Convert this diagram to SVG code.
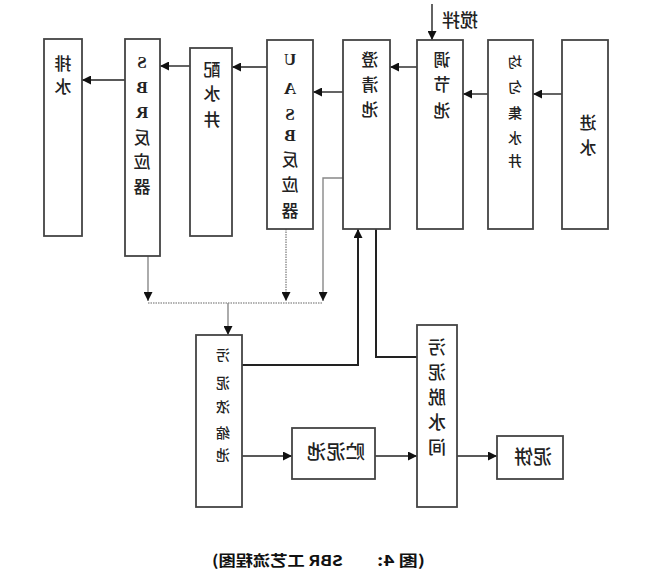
<svg xmlns="http://www.w3.org/2000/svg" width="658" height="577" viewBox="0 0 658 577">
<defs>
<marker id="ah" markerUnits="userSpaceOnUse" markerWidth="10" markerHeight="9" refX="9" refY="4.5" orient="auto">
<path d="M0,0 L9,4.5 L0,9 z" fill="#111"/>
</marker>
<style>
.box{fill:#fff;stroke:#444;stroke-width:1.8}
.t{font-family:"Noto Sans CJK SC","Liberation Sans",sans-serif;font-size:17px;font-weight:500;fill:#222;text-anchor:middle;dominant-baseline:central}
.s{font-size:14px}
.l{font-family:"Liberation Serif","Noto Sans CJK SC",serif;font-weight:bold;font-size:17px}
.c{fill:none;stroke:#222;stroke-width:1.4}
.g{fill:none;stroke:#888;stroke-width:1.4}
.d{fill:none;stroke:#999;stroke-width:1.6;stroke-dasharray:1.5 1}
.k{fill:none;stroke:#222;stroke-width:2}
.cap{font-family:"Noto Sans CJK SC","Liberation Sans",sans-serif;font-size:15px;font-weight:bold;fill:#111;text-anchor:middle}
</style>
</defs>
<rect width="658" height="577" fill="#fff"/>
<g id="connectors">
<line class="c" x1="562" y1="94" x2="533" y2="94" marker-end="url(#ah)"/>
<line class="c" x1="488" y1="94" x2="463" y2="94" marker-end="url(#ah)"/>
<line class="c" x1="417" y1="67" x2="390" y2="67" marker-end="url(#ah)"/>
<line class="c" x1="343" y1="92" x2="313" y2="92" marker-end="url(#ah)"/>
<line class="c" x1="267" y1="67" x2="232" y2="67" marker-end="url(#ah)"/>
<line class="c" x1="190" y1="66" x2="160" y2="66" marker-end="url(#ah)"/>
<line class="c" x1="125" y1="80" x2="82" y2="80" marker-end="url(#ah)"/>
<line class="c" x1="432" y1="4" x2="432" y2="40" marker-end="url(#ah)"/>
<path class="g" d="M148,256 V301" marker-end="url(#ah)"/>
<path class="d" d="M286,229 V301" marker-end="url(#ah)"/>
<path class="g" d="M343,178 H323 V301" marker-end="url(#ah)"/>
<path class="d" d="M148,303 H323"/>
<path class="g" d="M228,303 V335" marker-end="url(#ah)"/>
<path class="k" d="M242,365 H358 V229" marker-end="url(#ah)"/>
<path class="k" d="M376,229 V357 H417"/>
<line class="c" x1="242" y1="456" x2="292" y2="456" marker-end="url(#ah)"/>
<line class="c" x1="375" y1="456" x2="417" y2="456" marker-end="url(#ah)"/>
<line class="c" x1="457" y1="456" x2="497" y2="456" marker-end="url(#ah)"/>
</g>
<g id="paishui">
<rect class="box" x="44" y="39" width="38" height="197"/>
<text class="t" transform="matrix(-1 0 0 1 126 0)"><tspan x="63" y="62">排</tspan><tspan x="63" y="85">水</tspan></text>
</g>
<g id="sbr">
<rect class="box" x="125" y="39" width="35" height="217"/>
<text class="t" transform="matrix(-1 0 0 1 284 0)"><tspan class="l" x="142" y="62">S</tspan><tspan class="l" x="142" y="87">B</tspan><tspan class="l" x="142" y="112">R</tspan><tspan x="142" y="136">反</tspan><tspan x="142" y="160">应</tspan><tspan x="142" y="185">器</tspan></text>
</g>
<g id="peishuijing">
<rect class="box" x="190" y="48" width="42" height="188"/>
<text class="t" transform="matrix(-1 0 0 1 424 0)"><tspan x="212" y="68">配</tspan><tspan x="212" y="92">水</tspan><tspan x="212" y="118">井</tspan></text>
</g>
<g id="uasb">
<rect class="box" x="267" y="40" width="46" height="189"/>
<text class="t" transform="matrix(-1 0 0 1 580 0)"><tspan class="l" x="290" y="59">U</tspan><tspan class="l" x="290" y="88">A</tspan><tspan class="l" x="290" y="114">S</tspan><tspan class="l" x="290" y="135">B</tspan><tspan x="290" y="158">反</tspan><tspan x="290" y="183">应</tspan><tspan x="290" y="209">器</tspan></text>
</g>
<g id="chengqingchi">
<rect class="box" x="343" y="40" width="47" height="189"/>
<text class="t" transform="matrix(-1 0 0 1 740 0)"><tspan x="370" y="58">澄</tspan><tspan x="370" y="83">清</tspan><tspan x="370" y="108">池</tspan></text>
</g>
<g id="tiaojiechi">
<rect class="box" x="417" y="40" width="46" height="189"/>
<text class="t" transform="matrix(-1 0 0 1 884 0)"><tspan x="442" y="58">调</tspan><tspan x="442" y="83">节</tspan><tspan x="442" y="109">池</tspan></text>
</g>
<g id="jishuijing">
<rect class="box" x="488" y="40" width="45" height="189"/>
<text class="t s" transform="matrix(-1 0 0 1 1030 0)"><tspan x="515" y="61">均</tspan><tspan x="515" y="86">匀</tspan><tspan x="515" y="112">集</tspan><tspan x="515" y="137">水</tspan><tspan x="515" y="160">井</tspan></text>
</g>
<g id="jinshui">
<rect class="box" x="562" y="40" width="46" height="189"/>
<text class="t" transform="matrix(-1 0 0 1 1176 0)"><tspan x="588" y="121">进</tspan><tspan x="588" y="146">水</tspan></text>
</g>
<g id="jiaoban">
<text class="t" transform="matrix(-1 0 0 1 920 0)" x="460" y="19" style="font-size:18px">搅拌</text>
</g>
<g id="nongsuochi">
<rect class="box" x="196" y="335" width="46" height="172"/>
<text class="t s" transform="matrix(-1 0 0 1 446 0)"><tspan x="223" y="354">污</tspan><tspan x="223" y="382">泥</tspan><tspan x="223" y="406">浓</tspan><tspan x="223" y="432">缩</tspan><tspan x="223" y="454">池</tspan></text>
</g>
<g id="zhunichi">
<rect class="box" x="292" y="428" width="83" height="51"/>
<text class="t" style="font-size:19px" transform="matrix(-1 0 0 1 672 0)" x="336" y="450" textLength="58" lengthAdjust="spacingAndGlyphs">贮泥池</text>
</g>
<g id="tuoshuijian">
<rect class="box" x="417" y="325" width="40" height="182"/>
<text class="t" style="font-size:18px" transform="matrix(-1 0 0 1 874 0)"><tspan x="437" y="346">污</tspan><tspan x="437" y="371">泥</tspan><tspan x="437" y="396">脱</tspan><tspan x="437" y="421">水</tspan><tspan x="437" y="446">间</tspan></text>
</g>
<g id="nibing">
<rect class="box" x="497" y="436" width="66" height="43"/>
<text class="t" style="font-size:19px" transform="matrix(-1 0 0 1 1066 0)" x="533" y="455">泥饼</text>
</g>
<g id="caption">
<text class="cap" transform="matrix(-1 0 0 1 802 0)" x="401" y="566" textLength="48" lengthAdjust="spacingAndGlyphs">(图 4:</text>
<text class="cap" transform="matrix(-1 0 0 1 555 0)" x="277.5" y="566" textLength="131" lengthAdjust="spacingAndGlyphs">SBR 工艺流程图)</text>
</g>
</svg>
